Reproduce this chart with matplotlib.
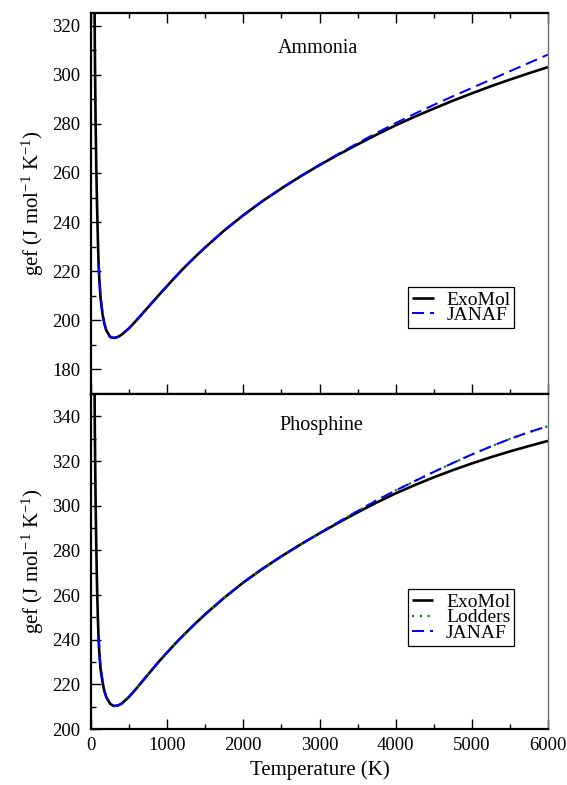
import matplotlib
matplotlib.use("Agg")
import matplotlib.pyplot as plt
from matplotlib.ticker import MultipleLocator

plt.rcParams["font.family"] = ["Liberation Serif", "DejaVu Serif"]
plt.rcParams["mathtext.fontset"] = "custom"
plt.rcParams["mathtext.rm"] = "Liberation Serif"
plt.rcParams["mathtext.it"] = "Liberation Serif:italic"

# ---- Ammonia ----
nh3_exomol_T = [40, 50, 60, 70, 80, 90, 100, 110, 125, 150, 175, 200, 250,
                300, 350, 400, 500, 600, 700, 800, 900, 1000, 1100, 1200,
                1300, 1400, 1500, 1750, 2000, 2250, 2500, 2750, 3000, 3250,
                3500, 3750, 4000, 4250, 4500, 4750, 5000, 5250, 5500, 5750,
                6000]
nh3_exomol_gef = [360, 312, 282, 261, 246, 233, 222.5, 216, 209.3, 202.7,
                  198.6, 196.0, 193.3, 192.8, 193.2, 194.1, 196.8, 200.1,
                  203.6, 207.1, 210.6, 214.0, 217.4, 220.7, 223.8, 226.8,
                  229.7, 236.6, 242.8, 248.5, 253.7, 258.6, 263.2, 267.5,
                  271.6, 275.6, 279.4, 282.9, 286.2, 289.4, 292.4, 295.3,
                  298.0, 300.6, 303.1]

nh3_janaf_T = [100, 125, 150, 175, 200, 250, 300, 350, 400, 500, 600, 700,
               800, 900, 1000, 1100, 1200, 1300, 1400, 1500, 1750, 2000, 2250,
               2500, 2750, 3000, 3250, 3500, 3750, 4000, 4250, 4500, 4750,
               5000, 5250, 5500, 5750, 6000]
nh3_janaf_gef = [223.2, 210.0, 203.5, 199.0, 196.0, 193.1, 192.8, 193.2,
                 194.1, 196.8, 200.1, 203.6, 207.1, 210.6, 214.0, 217.4,
                 220.7, 223.8, 226.8, 229.7, 236.6, 242.8, 248.5, 253.7,
                 258.6, 263.3, 267.8, 272.1, 276.3, 280.3, 284.1, 287.7,
                 291.2, 294.6, 298.0, 301.4, 304.8, 308.2]

# ---- Phosphine ----
ph3_exomol_T = [40, 50, 60, 70, 80, 90, 100, 110, 125, 150, 175, 200, 250,
                300, 350, 400, 500, 600, 700, 800, 900, 1000, 1100, 1200,
                1300, 1400, 1500, 1750, 2000, 2250, 2500, 2750, 3000, 3250,
                3500, 3750, 4000, 4250, 4500, 4750, 5000, 5250, 5500, 5750,
                6000]
ph3_exomol_gef = [390, 335, 303, 280, 263, 250, 240.0, 233.5, 227.0, 221.3,
                  217.0, 214.3, 211.3, 210.3, 210.5, 211.3, 214.4, 218.3,
                  222.4, 226.5, 230.5, 234.3, 238.0, 241.5, 244.9, 248.2,
                  251.4, 258.8, 265.6, 271.7, 277.3, 282.6, 287.6, 292.4,
                  297.0, 301.4, 305.5, 309.2, 312.7, 315.9, 318.9, 321.7,
                  324.3, 326.7, 329.0]

ph3_lodders_T = [300, 350, 400, 500, 600, 700, 800, 900, 1000, 1100, 1200,
                 1300, 1400, 1500, 1750, 2000, 2250, 2500, 2750, 3000, 3250,
                 3500, 3750, 4000, 4250, 4500, 4750, 5000, 5250, 5500, 5750,
                 6000]
ph3_lodders_gef = [210.3, 210.5, 211.3, 214.4, 218.3, 222.4, 226.5, 230.5,
                   234.3, 238.0, 241.5, 244.9, 248.2, 251.4, 258.8, 265.6,
                   271.7, 277.3, 282.6, 287.7, 292.7, 297.6, 302.4, 306.8,
                   311.0, 315.1, 319.1, 322.9, 326.5, 329.9, 332.9, 335.6]

ph3_janaf_T = [100, 125, 150, 175, 200, 250, 300, 350, 400, 500, 600, 700,
               800, 900, 1000, 1100, 1200, 1300, 1400, 1500, 1750, 2000, 2250,
               2500, 2750, 3000, 3250, 3500, 3750, 4000, 4250, 4500, 4750,
               5000, 5250, 5500, 5750, 6000]
ph3_janaf_gef = [241.8, 228.3, 222.2, 217.4, 214.5, 211.3, 210.3, 210.5,
                 211.3, 214.4, 218.3, 222.4, 226.5, 230.5, 234.3, 238.0,
                 241.5, 244.9, 248.2, 251.4, 258.8, 265.6, 271.7, 277.3,
                 282.6, 287.7, 292.7, 297.6, 302.4, 306.8, 311.0, 315.1,
                 319.1, 322.9, 326.5, 329.9, 332.9, 335.6]

BLACK = "#000000"
BLUE = "#0000ff"
GREEN = "#008b00"

fig = plt.figure(figsize=(5.67, 7.85), dpi=100)
left, width = 91 / 567, (548 - 91) / 567
ax1 = fig.add_axes([left, 1 - 394 / 785, width, (394 - 13.3) / 785])
ax2 = fig.add_axes([left, 1 - 729 / 785, width, (729 - 394) / 785], sharex=ax1)

exo_kw = dict(color=BLACK, lw=1.9, solid_capstyle="butt")
janaf_kw = dict(color=BLUE, lw=1.45, dashes=(6, 3))

ax1.plot(nh3_exomol_T, nh3_exomol_gef, label="ExoMol", **exo_kw)
ax1.plot(nh3_janaf_T, nh3_janaf_gef, label="JANAF", **janaf_kw)

ax2.plot(ph3_exomol_T, ph3_exomol_gef, label="ExoMol", **exo_kw)
ax2.plot(ph3_lodders_T, ph3_lodders_gef, label="Lodders", color=GREEN,
         lw=1.6, dashes=(1, 2.5))
ax2.plot(ph3_janaf_T, ph3_janaf_gef, label="JANAF", **janaf_kw)

ax1.set_xlim(0, 6000)
ax1.set_ylim(170, 325)
ax2.set_ylim(200, 350)

for ax in (ax1, ax2):
    ax.xaxis.set_major_locator(MultipleLocator(1000))
    ax.xaxis.set_minor_locator(MultipleLocator(500))
    ax.yaxis.set_major_locator(MultipleLocator(20))
    ax.yaxis.set_minor_locator(MultipleLocator(10))
    ax.tick_params(which="both", direction="in", width=1.0, labelsize=13.5,
                   right=False)
    ax.tick_params(axis="y", pad=7.5)
    ax.tick_params(axis="x", pad=6)
    ax.tick_params(which="major", length=7.5)
    ax.tick_params(which="minor", length=3.8)
    for side in ("left", "top", "bottom"):
        ax.spines[side].set_linewidth(1.6)
    ax.spines["right"].set_linewidth(1.0)
    ax.spines["right"].set_color("0.45")
    ax.set_ylabel(r"gef (J mol$^{\mathrm{-1}}$ K$^{\mathrm{-1}}$)", fontsize=15,
                  labelpad=5)

ax1.tick_params(axis="x", which="both", top=True, bottom=True, labelbottom=False)
ax1.set_yticks(range(180, 321, 20))
ax2.tick_params(axis="x", which="both", top=False, bottom=True)
ax2.set_yticks(range(200, 341, 20))
ax2.set_xlabel("Temperature (K)", fontsize=15, labelpad=4)

ax1.text(0.497, 0.908, "Ammonia", transform=ax1.transAxes, ha="center",
         va="center", fontsize=14.5)
ax2.text(0.505, 0.905, "Phosphine", transform=ax2.transAxes, ha="center",
         va="center", fontsize=14.5)

leg_kw = dict(fontsize=14, frameon=True, fancybox=False, shadow=False,
              framealpha=1, edgecolor="black", borderpad=0.2,
              labelspacing=-0.1, handlelength=1.1, handletextpad=0.65,
              borderaxespad=0)
lg1 = ax1.legend(loc="lower right", bbox_to_anchor=(0.926, 0.173), **leg_kw)
lg2 = ax2.legend(loc="lower right", bbox_to_anchor=(0.926, 0.248), **leg_kw)
for lg in (lg1, lg2):
    lg.get_frame().set_linewidth(0.9)

fig.savefig("out.png", dpi=100)
